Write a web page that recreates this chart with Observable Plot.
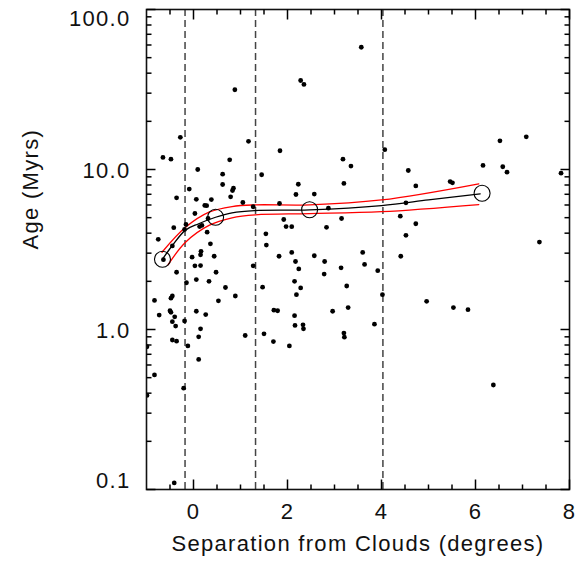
<!DOCTYPE html>
<html><head><meta charset="utf-8">
<script src="https://cdn.jsdelivr.net/npm/d3@7"></script>
<script src="https://cdn.jsdelivr.net/npm/@observablehq/plot@0.6"></script>
<style>body{margin:0;background:#fff}</style>
</head><body><div id="chart"></div>
<script>
// Stars: separation from clouds (degrees) and age (Myr)
const starSep = [3.57,0.88,2.28,2.35,-0.28,1.17,-0.65,-0.48,1.84,3.18,3.35,0.09,0.77,0.62,1.45,0.62,0.85,0.83,2.23,3.20,
  -0.09,2.18,2.57,0.79,-0.36,0.06,0.38,1.05,1.83,1.27,2.87,0.03,3.15,0.31,0.24,0.28,1.92,1.97,2.09,2.83,
  0.13,0.18,-0.16,-0.19,-0.42,0.29,-0.75,-0.45,0.36,1.54,1.55,
  4.07,6.52,7.08,6.16,6.58,6.67,4.57,7.82,4.73,5.46,5.51,4.52,4.40,4.73,4.52,7.36,
  -0.64,-0.03,0.16,0.15,0.44,0.03,0.15,-0.36,0.06,-0.15,0.33,0.48,0.68,0.53,0.89,-0.83,-0.48,-0.45,-0.73,-0.50,
  -0.48,-0.40,-0.45,-0.38,-0.19,0.06,0.26,0.15,0.11,-0.45,-0.36,-0.12,0.11,-0.99,-0.83,-0.21,-0.99,-0.41,
  1.10,1.27,1.47,1.82,2.09,2.17,2.24,2.15,2.28,2.19,2.57,2.79,2.78,3.14,3.26,3.29,2.96,1.71,1.79,2.15,2.16,
  2.33,2.34,1.50,1.70,2.04,3.20,3.21,
  3.60,3.64,3.92,4.02,3.85,4.41,4.96,5.53,5.84,6.38];
const starAge = [58.1,31.5,36.0,34.0,15.9,15.0,11.9,11.6,13.1,11.6,10.5,10.0,11.5,9.35,9.27,8.06,7.64,7.39,8.09,8.18,
  7.54,6.98,7.02,6.75,6.65,6.51,6.49,6.22,6.13,5.85,5.73,5.31,4.94,4.94,5.96,5.94,4.87,4.40,4.39,4.35,
  4.40,4.47,4.53,4.22,4.33,4.06,3.66,3.33,3.43,3.96,3.37,
  13.3,15.1,16.0,10.6,10.4,9.62,9.86,9.49,7.90,8.41,8.26,6.19,5.11,4.58,3.88,3.52,
  2.73,2.83,3.08,2.93,2.87,2.50,2.51,2.28,2.05,1.96,2.00,2.28,1.83,1.51,1.62,1.52,1.57,1.62,1.23,1.31,
  1.28,1.20,1.12,1.05,1.13,1.30,1.24,1.01,0.90,0.86,0.845,0.79,0.65,0.78,0.52,0.43,0.387,0.110,
  0.917,2.50,1.84,2.87,3.03,2.66,2.39,2.00,1.82,1.65,2.89,2.66,2.22,2.43,1.87,1.37,1.30,1.32,1.31,1.22,1.06,
  1.07,1.01,0.94,0.84,0.79,0.95,0.896,
  3.03,2.55,2.33,1.65,1.08,2.87,1.50,1.37,1.33,0.45];

// Fitted age trend and its red envelope
const fitSep = [-0.66,-0.45,-0.17,0.11,0.47,0.82,1.30,2.47,4.00,5.00,6.10];
const fitAge = [2.75,3.35,4.18,4.58,5.03,5.36,5.54,5.60,5.95,6.45,7.05];
const upperSep = [-0.67,-0.17,0.33,0.82,1.32,2.47,4.00,6.07];
const upperAge = [3.04,4.35,5.41,5.87,6.01,6.01,6.45,8.14];
const lowerSep = [-0.54,-0.17,0.33,0.82,1.32,2.47,4.00,6.07];
const lowerAge = [2.54,3.51,4.47,4.99,5.21,5.30,5.45,6.04];
const nodeSep = [-0.66,0.47,2.47,6.14];
const nodeAge = [2.75,5.03,5.60,7.11];

const cloudEdges = [-0.18,1.32,4.03];

const xMajorTicks = [0,2,4,6,8];
const xMinorTicks = [-0.5,0.5,1,1.5,2.5,3,3.5,4.5,5,5.5,6.5,7,7.5];
const yMajorTicks = [0.1,1,10,100];
const yMinorTicks = [0.2,0.3,0.4,0.5,0.6,0.7,0.8,0.9,2,3,4,5,6,7,8,9,20,30,40,50,60,70,80,90];

const xTitle = "Separation from Clouds (degrees)";
const yTitle = "Age (Myrs)";

const stars = starSep.map((s,i)=>({sep:s, age:starAge[i]}));
const pairs = (a,b)=>a.map((s,i)=>({sep:s, age:b[i]}));
const fit = pairs(fitSep, fitAge);
const upper = pairs(upperSep, upperAge);
const lower = pairs(lowerSep, lowerAge);
const nodes = pairs(nodeSep, nodeAge);

const fmt = d3.format(".1f");

const W = 580, H = 566, ML = 146, MR = 11, MT = 9, MB = 77;
const PW = W - ML - MR, PH = H - MT - MB;
const xDom = [-1, 8], yDom = [0.1, 100];
// tick lengths in pixels, converted to the scales' units
const MAJ = 10, MIN = 5;
const pxPerX = PW / (xDom[1] - xDom[0]);
const pxPerDecade = PH / Math.log10(yDom[1] / yDom[0]);
const dxOf = px => px / pxPerX;
const fyOf = px => Math.pow(10, px / pxPerDecade);
const tk = {stroke: "#000", strokeWidth: 1.5};
const xTicksAt = (vals, len) => [
  Plot.link(vals, {x1: d=>d, x2: d=>d, y1: yDom[0], y2: yDom[0] * fyOf(len), ...tk}),
  Plot.link(vals, {x1: d=>d, x2: d=>d, y1: yDom[1], y2: yDom[1] / fyOf(len), ...tk})
];
const yTicksAt = (vals, len) => [
  Plot.link(vals, {y1: d=>d, y2: d=>d, x1: xDom[0], x2: xDom[0] + dxOf(len), ...tk}),
  Plot.link(vals, {y1: d=>d, y2: d=>d, x1: xDom[1], x2: xDom[1] - dxOf(len), ...tk})
];

const chart = Plot.plot({
  width: W, height: H,
  marginLeft: ML, marginRight: MR, marginTop: MT, marginBottom: MB,
  style: "font-family: 'Liberation Sans', Arial, sans-serif; letter-spacing: 1.3px; background: white;",
  x: {domain: xDom, axis: null},
  y: {type: "log", domain: yDom, axis: null},
  marks: [
    Plot.ruleX(cloudEdges, {x: d=>d, stroke: "#444", strokeWidth: 1.5, strokeDasharray: "7,4"}),
    Plot.line(upper, {x: "sep", y: "age", stroke: "red", strokeWidth: 1.3, curve: "catmull-rom"}),
    Plot.line(lower, {x: "sep", y: "age", stroke: "red", strokeWidth: 1.3, curve: "catmull-rom"}),
    Plot.line(fit, {x: "sep", y: "age", stroke: "black", strokeWidth: 1.3, curve: "catmull-rom"}),
    Plot.dot(nodes, {x: "sep", y: "age", r: 8, stroke: "black", strokeWidth: 1.1, fill: "none"}),
    Plot.dot(stars, {x: "sep", y: "age", r: 2.4, fill: "black", stroke: "none", clip: true}),
    Plot.frame({stroke: "#111", strokeWidth: 1.6}),
    ...xTicksAt(xMajorTicks, MAJ),
    ...xTicksAt(xMinorTicks, MIN),
    ...yTicksAt(yMajorTicks, MAJ - 1),
    ...yTicksAt(yMinorTicks, MIN),
    Plot.text(xMajorTicks, {x: d=>d, text: d=>String(d), frameAnchor: "bottom", dy: 29, fontSize: 22, fill: "#111"}),
    Plot.text(yMajorTicks.filter(d=>d>0.1 && d<100), {y: d=>d, text: d=>fmt(d), frameAnchor: "left", textAnchor: "end", dx: -16, dy: 1, fontSize: 22, fill: "#111"}),
    Plot.text(yMajorTicks.filter(d=>d>=100), {y: d=>d, text: d=>fmt(d), frameAnchor: "left", textAnchor: "end", dx: -16, dy: 9, fontSize: 22, fill: "#111"}),
    Plot.text(yMajorTicks.filter(d=>d<=0.1), {y: d=>d, text: d=>fmt(d), frameAnchor: "left", textAnchor: "end", dx: -16, dy: -9, fontSize: 22, fill: "#111"}),
    Plot.text([xTitle], {text: d=>d, frameAnchor: "bottom", dy: 61, fontSize: 22, fill: "#111"}),
    Plot.text([yTitle], {text: d=>d, frameAnchor: "left", dx: -116, rotate: -90, fontSize: 22, fill: "#111"})
  ]
});
document.getElementById("chart").appendChild(chart);
</script>
</body></html>
